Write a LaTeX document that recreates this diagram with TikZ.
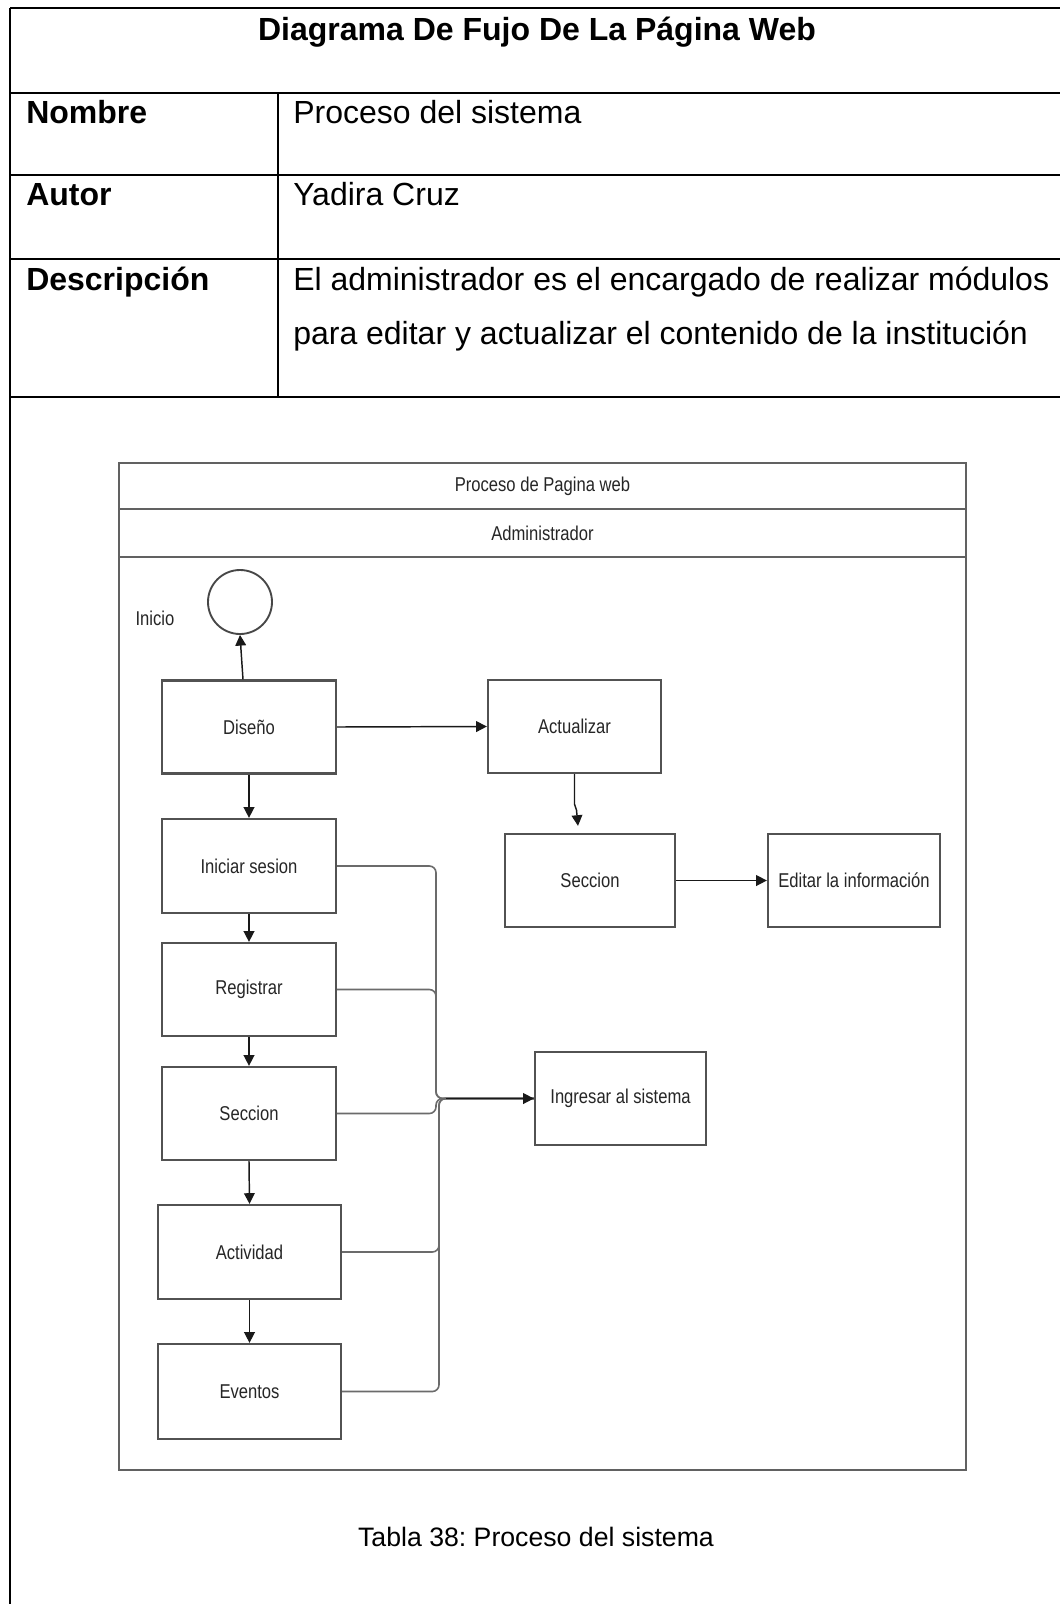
\documentclass[tikz,border=0pt]{standalone}
\usepackage{fontspec}
\setmainfont{Liberation Sans}
\newfontfamily\diagfont[FakeStretch=0.83]{Liberation Sans}
\usetikzlibrary{arrows.meta,calc}
\frenchspacing
\begin{document}
\begin{tikzpicture}[x=0.75pt,y=-0.75pt,
  tline/.style={line width=1.5pt,black},
  lane/.style={line width=1.3pt,black!62},
  sz/.style 2 args={minimum width=#1*0.75pt,minimum height=#2*0.75pt},
  box/.style={draw=black!68,line width=1.7pt,fill=white,inner sep=0pt,
    font=\diagfont\fontsize{15}{18}\selectfont,text=black!85},
  dlabel/.style={inner sep=0pt,font=\diagfont\fontsize{15}{18}\selectfont,text=black!85},
  arr/.style={line width=1.1pt,black!90,-{Triangle[length=8pt,width=8pt]}},
  conn/.style={line width=1.2pt,black!58,rounded corners=5pt},
  cell/.style={inner sep=0pt,anchor=base west,font=\fontsize{24}{28}\selectfont},
  cellb/.style={cell,font=\fontsize{24}{28}\selectfont\bfseries},
]
\useasboundingbox (0,0) rectangle (1060,1604);
\clip (0,0) rectangle (1060,1604);
\fill[white] (0,0) rectangle (1060,1604);

% table
\draw[tline] (10,8) -- (1075,8);
\draw[tline] (10,93) -- (1075,93);
\draw[tline] (10,175) -- (1075,175);
\draw[tline] (10,259) -- (1075,259);
\draw[tline] (10,397) -- (1075,397);
\draw[tline] (10,8) -- (10,1610);
\draw[tline] (278,93) -- (278,397);

\node[inner sep=0pt,anchor=base,font=\fontsize{24}{28}\selectfont\bfseries] (title) at (537,40) {Diagrama De Fujo De La Página Web};
\node[cellb] (lnom) at (26,123) {Nombre};
\node[cell] (vnom) at (293,123) {Proceso del sistema};
\node[cellb] (laut) at (26,205) {Autor};
\node[cell] (vaut) at (293,205) {Yadira Cruz};
\node[cellb] (ldes) at (26,290) {Descripción};
\node[cell] (vdes1) at (293,290) {El administrador es el encargado de realizar módulos};
\node[cell] (vdes2) at (293,344) {para editar y actualizar el contenido de la institución};
\node[inner sep=0pt,anchor=base,font=\fontsize{20}{24}\selectfont] (caption) at (536,1546) {Tabla 38: Proceso del sistema};

% lane
\draw[lane] (119,463) rectangle (966,1470);
\draw[lane] (119,509) -- (966,509);
\draw[lane] (119,557) -- (966,557);
\node[dlabel] (hdr1) at (542.5,486) {Proceso de Pagina web};
\node[dlabel] (hdr2) at (542.5,533) {Administrador};

% nodes
\node[circle,draw=black!72,line width=1.4pt,minimum size=64*0.75pt,inner sep=0pt] (start) at (240,602) {};
\node[dlabel] (inicio) at (155,618) {Inicio};
\node[box,sz={174}{93}] (dis) at (249,727) {Diseño};
\node[box,sz={173}{93}] (act) at (574.5,726.5) {Actualizar};
\node[box,sz={174}{94}] (ini) at (249,866) {Iniciar sesion};
\node[box,sz={170}{93}] (sec2) at (590,880.5) {Seccion};
\node[box,sz={172}{93}] (edi) at (854,880.5) {Editar la información};
\node[box,sz={174}{93}] (reg) at (249,989.5) {Registrar};
\node[box,sz={174}{93}] (sec1) at (249,1113.5) {Seccion};
\node[box,sz={183}{94}] (actv) at (249.5,1252) {Actividad};
\node[box,sz={183}{95}] (eve) at (249.5,1391.5) {Eventos};
\node[box,sz={171}{93}] (ing) at (620.5,1098.5) {Ingresar al sistema};

% connectors
\draw[arr] ($(dis.north)+(-6,0)$) -- (start.south);
\draw[arr] (dis.east) -- (act.west);
\draw[arr] (dis.south) -- (ini.north);
\draw[arr] (ini.south) -- (reg.north);
\draw[arr] (reg.south) -- (sec1.north);
\draw[arr] (sec1.south) -- (actv.north);
\draw[arr] (actv.south) -- (eve.north);
\draw[arr] (act.south) -- ++(0,30) -- ++(2,6) -- ($(sec2.north)+(-12,-7)$);
\draw[arr] (sec2.east) -- (edi.west);

\coordinate (busT) at (436,1098.5);
\coordinate (busB) at (439,1098.5);
\coordinate (junc) at (446,1098.5);
\draw[conn] (ini.east) -| (busT) -- (ing.west);
\draw[conn] (reg.east) -| (busT) -- (ing.west);
\draw[conn] (sec1.east) -| (busT) -- (ing.west);
\draw[conn] (actv.east) -| (busB) -- (ing.west);
\draw[conn] (eve.east) -| (busB) -- (ing.west);
\draw[arr] (junc) -- (ing.west);
\end{tikzpicture}
\end{document}
